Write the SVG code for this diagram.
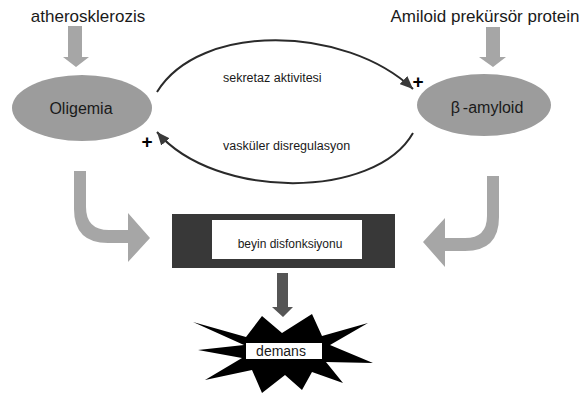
<svg xmlns="http://www.w3.org/2000/svg" width="582" height="396" viewBox="0 0 582 396">
<defs>
<style>
.t{font-family:"Liberation Sans",Arial,sans-serif;fill:#1a1a1a}
.big{font-size:17px}
.node{font-size:16px}
.lbl{font-size:12.5px}
.plus{font-size:19px;font-weight:bold;fill:#000}
.ell{fill:#9c9c9c}
.garrow{fill:#a6a6a6}
.curve{fill:none;stroke:#2a2a2a;stroke-width:2}
</style>
<marker id="ah" markerUnits="userSpaceOnUse" markerWidth="13" markerHeight="11" refX="13" refY="5.5" orient="auto">
<path d="M0,0 L13,5.5 L0,11 Z" fill="#3a3a3a"/>
</marker>
</defs>
<rect width="582" height="396" fill="#fff"/>

<g id="atherosklerozis">
<text class="t big" x="88" y="22" text-anchor="middle">atherosklerozis</text>
</g>
<g id="amiloid-prekursor">
<text class="t big" x="485" y="22" text-anchor="middle">Amiloid prekürsör protein</text>
</g>

<g id="oligemia">
<ellipse class="ell" cx="82" cy="108" rx="70" ry="33"/>
<text class="t node" x="81" y="114" text-anchor="middle">Oligemia</text>
</g>

<g id="beta-amyloid">
<ellipse class="ell" cx="484" cy="105" rx="67" ry="31"/>
<text class="t node" x="487" y="113" text-anchor="middle">β<tspan dx="3">-amyloid</tspan></text>
</g>

<g id="beyin-disfonksiyonu">
<rect x="172" y="214" width="223" height="54" fill="#383838"/>
<rect x="212" y="220" width="150" height="39" fill="#fff"/>
<text class="t" font-size="12px" x="290" y="248" text-anchor="middle">beyin disfonksiyonu</text>
</g>

<g id="demans">
<polygon fill="#000" points="193,322 246,337 262,316 282,333 312,314 322,336 368,323 330,345 373,363 326,362 343,383 312,372 302,390 285,375 262,393 252,370 205,380 242,358 198,350 244,345"/>
<rect x="246" y="343" width="76" height="16" fill="#fff"/>
<text class="t" font-size="14px" x="281" y="356" text-anchor="middle">demans</text>
</g>

<g id="connectors">
<polygon class="garrow" points="68,26 82,26 82,57 89,57 76,67 63,57 68,57"/>
<polygon class="garrow" points="486,27 500,27 500,57 506,57 493,67 479,57 486,57"/>
<path class="garrow" d="M74,171 L86,171 L86,207 Q86,230 109,230 L128,230 L128,213 L150,238 L128,262 L128,243 L108,243 Q74,243 74,209 Z"/>
<path class="garrow" d="M499,176 L487,176 L487,216 Q487,238 465,238 L445,238 L445,218 L423,242 L445,267 L445,251 L465,251 Q499,251 499,217 Z"/>
<polygon fill="#555" points="277,273 288,273 288,307 293,307 283,317 272,307 277,307"/>
<path class="curve" d="M157,92 C200,22 345,25 413,89" marker-end="url(#ah)"/>
<path class="curve" d="M413,133 C375,200 215,200 157,132" marker-end="url(#ah)"/>
<text class="t lbl" x="223" y="82">sekretaz aktivitesi</text>
<text class="t lbl" x="223" y="150">vasküler disregulasyon</text>
<text class="t plus" x="418" y="88" text-anchor="middle">+</text>
<text class="t plus" x="147" y="148" text-anchor="middle">+</text>
</g>
</svg>
